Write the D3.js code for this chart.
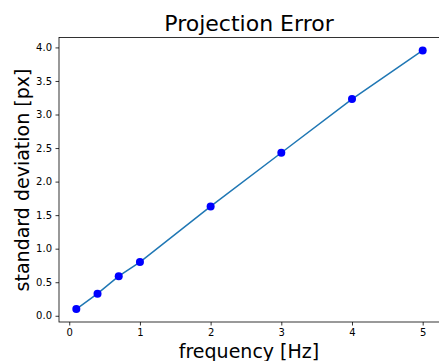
<!DOCTYPE html>
<html>
<head>
<meta charset="utf-8">
<script src="https://cdn.jsdelivr.net/npm/d3@7"></script>
<style>
  body { margin: 0; background: #fff; }
  svg { display: block; font-family: 'DejaVu Sans', sans-serif; }
</style>
</head>
<body>
<svg id="chart" width="439" height="361"></svg>
<script>
// Projection error vs frequency
const frequencies = [0.1, 0.4, 0.7, 1, 2, 3, 4, 5]
const stdDevs = [0.10, 0.33, 0.59, 0.80, 1.63, 2.43, 3.23, 3.955]
const xTicks = [0, 1, 2, 3, 4, 5]
const yTicks = [0.0, 0.5, 1.0, 1.5, 2.0, 2.5, 3.0, 3.5, 4.0]

const margin = { top: 37.5, right: -1, bottom: 39, left: 59 }
const width = 439, height = 361

const svg = d3.select('#chart')
const points = frequencies.map((f, i) => ({ f, s: stdDevs[i] }))

// matplotlib-like 5% padding on data range
const xPad = (d3.max(frequencies) - d3.min(frequencies)) * 0.05
const yPad = (d3.max(stdDevs) - d3.min(stdDevs)) * 0.05

const x = d3.scaleLinear()
  .domain([d3.min(frequencies) - xPad, d3.max(frequencies) + xPad])
  .range([margin.left, width - margin.right])

const y = d3.scaleLinear()
  .domain([d3.min(stdDevs) - yPad, d3.max(stdDevs) + yPad])
  .range([height - margin.bottom, margin.top])

// Axes
const xAxis = svg.append('g')
  .attr('transform', `translate(0,${height - margin.bottom})`)
  .call(d3.axisBottom(x).tickValues(xTicks).tickFormat(d3.format('d')).tickSize(3.5).tickPadding(3.5))

const yAxis = svg.append('g')
  .attr('transform', `translate(${margin.left},0)`)
  .call(d3.axisLeft(y).tickValues(yTicks).tickFormat(d3.format('.1f')).tickSize(3.5).tickPadding(3.5))

for (const ax of [xAxis, yAxis]) {
  ax.select('.domain').remove()
  ax.selectAll('text').style('font-size', '10px').style('font-family', 'DejaVu Sans').attr('fill', '#000')
  ax.selectAll('line').attr('stroke', '#000').attr('stroke-width', 0.8)
}

// Frame
svg.append('rect')
  .attr('x', margin.left)
  .attr('y', margin.top)
  .attr('width', x.range()[1] - margin.left)
  .attr('height', y.range()[0] - margin.top)
  .attr('fill', 'none')
  .attr('stroke', '#000')
  .attr('stroke-width', 0.8)

// Line
const line = d3.line()
  .x(d => x(d.f))
  .y(d => y(d.s))

svg.append('path')
  .datum(points)
  .attr('fill', 'none')
  .attr('stroke', '#1f77b4')
  .attr('stroke-width', 1.5)
  .attr('d', line)

// Dots
svg.selectAll('.dot')
  .data(points)
  .enter()
  .append('circle')
  .attr('cx', d => x(d.f))
  .attr('cy', d => y(d.s))
  .attr('r', 4)
  .attr('fill', '#0000ff')

// Title and labels
svg.append('text')
  .attr('x', 249)
  .attr('y', 31)
  .attr('text-anchor', 'middle')
  .style('font-size', '22px')
  .text('Projection Error')

svg.append('text')
  .attr('x', 249)
  .attr('y', 358)
  .attr('text-anchor', 'middle')
  .style('font-size', '19px')
  .text('frequency [Hz]')

svg.append('text')
  .attr('transform', 'translate(29,180) rotate(-90)')
  .attr('text-anchor', 'middle')
  .style('font-size', '19px')
  .text('standard deviation [px]')
</script>
</body>
</html>
